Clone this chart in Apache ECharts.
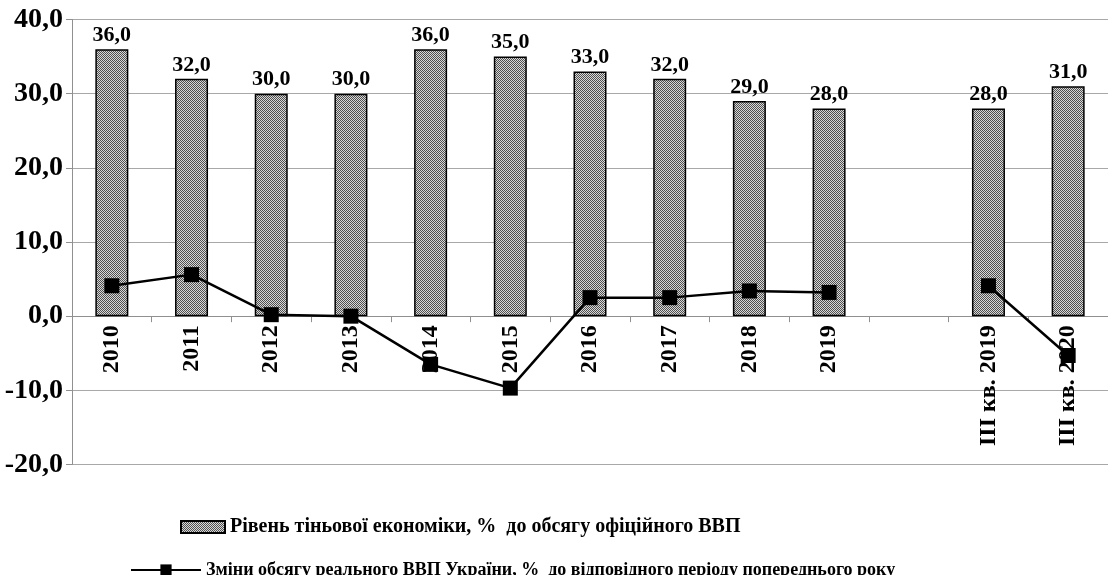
<!DOCTYPE html>
<html>
<head>
<meta charset="utf-8">
<script src="https://cdn.jsdelivr.net/npm/echarts@6/dist/echarts.min.js"></script>
<style>html,body{margin:0;padding:0;background:#fff}#c{width:1108px;height:575px}</style>
</head>
<body>
<div id="c"></div>
<script>
const categories = ['2010','2011','2012','2013','2014','2015','2016','2017','2018','2019','','ІІІ кв. 2019','ІІІ кв. 2020'];
const shadowEconomy = [36.0, 32.0, 30.0, 30.0, 36.0, 35.0, 33.0, 32.0, 29.0, 28.0, null, 28.0, 31.0];
const gdpChange = [4.1, 5.6, 0.2, 0.0, -6.5, -9.7, 2.5, 2.5, 3.4, 3.2, null, 4.1, -5.3];
const yTicks = {min: -20, max: 40, interval: 10};
const barName = 'Рівень тіньової економіки, %  до обсягу офіційного ВВП';
const lineName = 'Зміни обсягу реального ВВП України, %  до відповідного періоду попереднього року';

const cv = document.createElement('canvas');
cv.width = 2; cv.height = 2;
const cx = cv.getContext('2d');
cx.fillStyle = '#d8d8d8'; cx.fillRect(0,0,2,2);
cx.fillStyle = '#505050'; cx.fillRect(0,0,1,1); cx.fillRect(1,1,1,1);
const pattern = {image: cv, repeat: 'repeat'};

const font = 'Liberation Serif';
const fmt = v => v.toFixed(1).replace('.', ',');

const W = 1108, H = 575;
const grid = {left: 72, right: -9, top: 19.5, bottom: 110.5};
const gridH = H - grid.top - grid.bottom;
const zeroOffset = -gridH * (0 - yTicks.min) / (yTicks.max - yTicks.min);

const chart = echarts.init(document.getElementById('c'));
chart.setOption({
  animation: false,
  backgroundColor: '#fff',
  grid: Object.assign({containLabel: false}, grid),
  legend: [{
    data: [barName], left: 175, top: 512, icon: 'rect', itemWidth: 44, itemHeight: 12, itemGap: 6,
    textStyle: {fontFamily: font, fontWeight: 'bold', fontSize: 20, color: '#000'}
  }, {
    data: [lineName], left: 125, top: 556, itemWidth: 70, itemHeight: 14, itemGap: 4,
    textStyle: {fontFamily: font, fontWeight: 'bold', fontSize: 18, color: '#000'}
  }],
  xAxis: {
    type: 'category', data: categories, position: 'bottom', offset: zeroOffset,
    axisLine: {onZero: false, lineStyle: {color: '#909090', width: 1}},
    axisTick: {show: true, interval: 0, length: 6, lineStyle: {color: '#909090'}},
    axisLabel: {interval: 0, rotate: 90, margin: 9, color: '#000', fontFamily: font, fontWeight: 'bold', fontSize: 24},
    splitLine: {show: false}
  },
  yAxis: {
    type: 'value', min: yTicks.min, max: yTicks.max, interval: yTicks.interval,
    axisLine: {show: true, lineStyle: {color: '#909090'}},
    axisTick: {show: true, length: 6, lineStyle: {color: '#909090'}},
    axisLabel: {formatter: fmt, color: '#000', fontFamily: font, fontWeight: 'bold', fontSize: 28, margin: 9},
    splitLine: {show: true, lineStyle: {color: '#a8a8a8', width: 1}}
  },
  series: [{
    name: barName, type: 'bar', data: shadowEconomy, barWidth: 33,
    itemStyle: {color: pattern, borderColor: '#000', borderWidth: 1.5},
    label: {show: true, position: 'top', distance: 3, formatter: p => fmt(p.value), color: '#000', fontFamily: font, fontWeight: 'bold', fontSize: 22}
  }, {
    name: lineName, type: 'line', data: gdpChange, connectNulls: false,
    symbol: 'rect', symbolSize: 15,
    lineStyle: {color: '#000', width: 2.5},
    itemStyle: {color: '#000'}
  }]
});
</script>
</body>
</html>
